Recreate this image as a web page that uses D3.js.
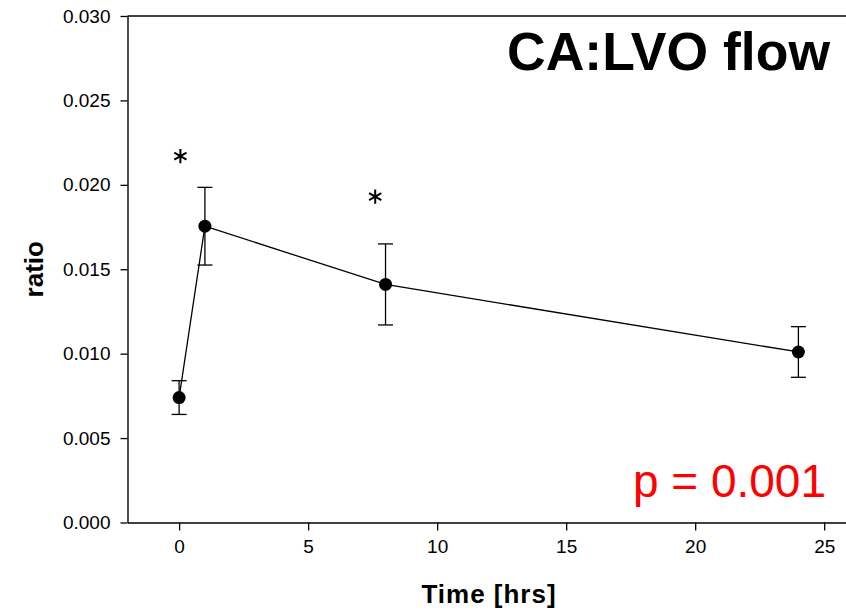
<!DOCTYPE html>
<html>
<head>
<meta charset="utf-8">
<script src="https://cdn.jsdelivr.net/npm/d3@7"></script>
<style>
  body { margin: 0; background: #fff; }
  svg { display: block; font-family: "Liberation Sans", Arial, sans-serif; }
</style>
</head>
<body>
<svg id="chart" width="846" height="612"></svg>
<script>
// time points (hrs) and CA:LVO flow ratio, mean +/- error
var hours = [0, 1, 8, 24];
var ratio = [0.0074, 0.01755, 0.0141, 0.0101];
var errUp = [0.0010, 0.0023, 0.0024, 0.0015];
var errDown = [0.0010, 0.0023, 0.0024, 0.0015];

var xTicks = [0, 5, 10, 15, 20, 25];
var yTicks = [0, 0.005, 0.010, 0.015, 0.020, 0.025, 0.030];

// significance markers
var starX = [0.05, 7.6];
var starY = [0.0217, 0.0193];

var svg = d3.select("#chart");
var plotL = 127.5, plotT = 16, plotB = 522.5, plotR = 850;

var x = d3.scaleLinear().domain([-2, 26]).range([plotL, plotR]);
var y = d3.scaleLinear().domain([0, 0.030]).range([plotB, plotT]);

// frame top line
svg.append("line")
    .attr("x1", plotL).attr("x2", plotR)
    .attr("y1", plotT).attr("y2", plotT)
    .attr("stroke", "#000").attr("stroke-width", 1.4);

// y axis
var yAxis = svg.append("g")
    .attr("transform", "translate(" + plotL + ",0)")
    .call(d3.axisLeft(y).tickValues(yTicks).tickFormat(d3.format(".3f"))
          .tickSize(7).tickPadding(10).tickSizeOuter(0));

// x axis
var xAxis = svg.append("g")
    .attr("transform", "translate(0," + plotB + ")")
    .call(d3.axisBottom(x).tickValues(xTicks).tickFormat(d3.format("d"))
          .tickSize(8).tickPadding(9).tickSizeOuter(0));

[yAxis, xAxis].forEach(function(g) {
    g.attr("font-size", 19).attr("font-family", "'Liberation Sans', Arial, sans-serif");
    g.select(".domain").attr("stroke", "#000").attr("stroke-width", 1.4);
    g.selectAll(".tick line").attr("stroke", "#000").attr("stroke-width", 1.3);
    g.selectAll(".tick text").attr("fill", "#000");
});

// axis titles
svg.append("text")
    .attr("transform", "translate(43," + ((plotT + plotB) / 2) + ") rotate(-90)")
    .attr("text-anchor", "middle")
    .style("font-size", "26px").style("font-weight", "bold")
    .text("ratio");

svg.append("text")
    .attr("x", 489).attr("y", 603)
    .attr("text-anchor", "middle")
    .style("font-size", "26px").style("font-weight", "bold")
    .style("letter-spacing", "1px")
    .text("Time [hrs]");

var pts = hours.map(function(h, i) {
    return {h: h, v: ratio[i], up: errUp[i], dn: errDown[i]};
});

// connecting line
var line = d3.line()
    .x(function(d) { return x(d.h); })
    .y(function(d) { return y(d.v); });

svg.append("path")
    .datum(pts)
    .attr("d", line)
    .attr("fill", "none")
    .attr("stroke", "#000")
    .attr("stroke-width", 1.3);

// error bars
var eb = svg.append("g").attr("stroke", "#000").attr("stroke-width", 1.3);
var cap = 7.5;
pts.forEach(function(d) {
    eb.append("line")
        .attr("x1", x(d.h)).attr("x2", x(d.h))
        .attr("y1", y(d.v + d.up)).attr("y2", y(d.v - d.dn));
    eb.append("line")
        .attr("x1", x(d.h) - cap).attr("x2", x(d.h) + cap)
        .attr("y1", y(d.v + d.up)).attr("y2", y(d.v + d.up));
    eb.append("line")
        .attr("x1", x(d.h) - cap).attr("x2", x(d.h) + cap)
        .attr("y1", y(d.v - d.dn)).attr("y2", y(d.v - d.dn));
});

// markers
svg.append("g").selectAll("circle")
    .data(pts)
    .enter()
    .append("circle")
    .attr("cx", function(d) { return x(d.h); })
    .attr("cy", function(d) { return y(d.v); })
    .attr("r", 6.5)
    .attr("fill", "#000");

// asterisks (six-spoke)
var star = d3.symbol().type(d3.symbolAsterisk).size(140);
svg.append("g").selectAll("path")
    .data(starX.map(function(sx, i) { return [sx, starY[i]]; }))
    .enter()
    .append("path")
    .attr("transform", function(d) { return "translate(" + x(d[0]) + "," + y(d[1]) + ")"; })
    .attr("d", star)
    .attr("fill", "none")
    .attr("stroke", "#000")
    .attr("stroke-width", 2);

// title and p value
svg.append("text")
    .attr("x", 830).attr("y", 70)
    .attr("text-anchor", "end")
    .style("font-size", "53.5px").style("font-weight", "bold")
    .text("CA:LVO flow");

svg.append("text")
    .attr("x", 826).attr("y", 497)
    .attr("text-anchor", "end")
    .attr("fill", "#ff0000")
    .style("font-size", "46px")
    .text("p = 0.001");
</script>
</body>
</html>
